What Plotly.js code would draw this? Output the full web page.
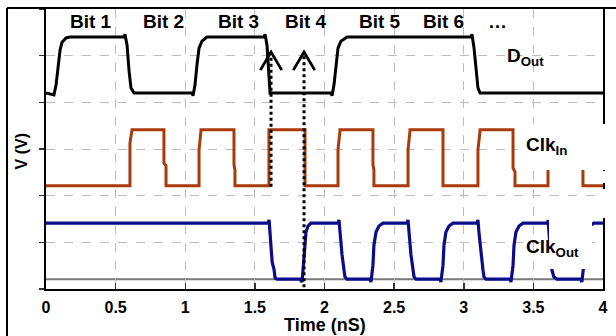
<!DOCTYPE html>
<html><head><meta charset="utf-8">
<script src="https://cdn.plot.ly/plotly-3.0.1.min.js"></script>
<style>html,body{margin:0;padding:0;background:#fff;}#chart{width:616px;height:336px;}</style>
</head><body><div id="chart"></div>
<script>
// ---- data (time in nS, level in chart units) ----
const dOutT = [0,0.057,0.072,0.086,0.101,0.115,0.144,0.172,0.560,0.567,0.582,0.596,0.610,0.632,
  1.048,1.056,1.070,1.084,1.099,1.120,1.156,1.566,1.573,1.587,1.595,1.602,1.609,
  2.047,2.054,2.068,2.083,2.097,2.118,2.162,3.052,3.059,3.074,3.088,3.102,3.117,4.0];
const dOutV = [4.20,4.16,4.37,4.69,5.12,5.29,5.38,5.40,5.40,5.46,5.23,4.69,4.31,4.20,
  4.20,4.14,4.37,4.80,5.16,5.31,5.40,5.40,5.46,5.23,4.91,4.48,4.20,
  4.20,4.14,4.37,4.80,5.16,5.31,5.40,5.40,5.46,5.16,4.69,4.31,4.20,4.20];

const clkInT = [0,0.603,0.603,0.618,0.618,0.847,0.847,0.862,0.862,
  1.099,1.099,1.113,1.113,1.350,1.350,1.357,1.357,
  1.601,1.601,1.860,1.860,
  2.097,2.097,2.111,2.111,2.348,2.348,2.355,2.355,
  2.600,2.600,2.614,2.614,2.851,2.851,
  3.102,3.102,3.117,3.117,3.354,3.354,3.368,3.368,
  3.605,3.605,3.619,3.619,3.856,3.856,4.0];
const clkInV = [2.21,2.21,3.13,3.39,3.41,3.41,2.70,2.64,2.21,
  2.21,2.98,3.39,3.41,3.41,2.66,2.55,2.21,
  2.21,3.41,3.41,2.21,
  2.21,2.98,3.39,3.41,3.41,2.66,2.55,2.21,
  2.21,2.98,3.39,3.41,3.41,2.21,
  2.21,2.98,3.39,3.41,3.41,2.59,2.51,2.21,
  2.21,2.98,3.39,3.41,3.41,2.21,2.21];

const clkOutT = [0,1.594,1.602,1.609,1.616,1.624,1.638,1.645,1.659,1.824,1.839,1.846,1.853,1.860,1.867,1.882,1.903,1.932,
  2.097,2.104,2.111,2.126,2.140,2.147,2.162,2.326,2.334,2.348,2.355,2.370,2.391,2.420,
  2.592,2.600,2.607,2.621,2.636,2.643,2.657,2.829,2.836,2.851,2.858,2.872,2.894,2.923,
  3.095,3.102,3.109,3.124,3.138,3.145,3.160,3.332,3.339,3.354,3.361,3.375,3.397,3.426,
  3.605,3.605,3.612,3.626,3.633,3.647,3.669,3.841,3.848,3.862,3.869,3.884,3.905,3.934,4.0];
const clkOutV = [1.41,1.41,1.48,1.22,0.84,0.58,0.41,0.24,0.21,0.21,0.15,0.41,0.84,1.05,1.22,1.35,1.41,1.41,
  1.41,1.48,1.22,0.73,0.41,0.26,0.21,0.21,0.15,0.51,0.94,1.22,1.35,1.41,
  1.41,1.48,1.22,0.73,0.41,0.26,0.21,0.21,0.15,0.51,0.94,1.22,1.35,1.41,
  1.41,1.48,1.22,0.73,0.41,0.26,0.21,0.21,0.15,0.51,0.94,1.22,1.35,1.41,
  1.41,1.48,1.22,0.73,0.41,0.26,0.21,0.21,0.15,0.51,0.94,1.22,1.35,1.41,1.41];

const tickVals = [0,0.5,1,1.5,2,2.5,3,3.5,4];
const tickText = ['0','0.5','1','1.5','2','2.5','3','3.5','4'];

const bitLabels = ['Bit 1','Bit 2','Bit 3','Bit 4','Bit 5','Bit 6','…'];
const bitX = [0.323,0.847,1.379,1.867,2.399,2.851,3.239];
const bitY = 5.74;

const arrowX = [1.616,1.853];
const arrowFrom = [2.19,0.04];
const arrowTo = [5.08,5.08];

const baseLevel = 0.21;

// ---- build ----
const F = 'Arial, "Liberation Sans", sans-serif';
const traces = [
  {x:dOutT,y:dOutV,mode:'lines',line:{color:'#000000',width:3},hoverinfo:'skip'},
  {x:clkInT,y:clkInV,mode:'lines',line:{color:'#A83A0C',width:3},hoverinfo:'skip'},
  {x:clkOutT,y:clkOutV,mode:'lines',line:{color:'#0C0C8A',width:3.2},hoverinfo:'skip'}
];
arrowX.forEach((ax,i)=>{
  traces.push({x:[ax,ax],y:[arrowFrom[i],arrowTo[i]],mode:'lines',
    line:{color:'#000',width:3,dash:'dot'},hoverinfo:'skip'});
  traces.push({x:[ax-0.077,ax,ax+0.077],y:[arrowTo[i]-0.39,arrowTo[i],arrowTo[i]-0.39],mode:'lines',
    line:{color:'#000',width:2.8},hoverinfo:'skip'});
});

const annotations = bitLabels.map((t,i)=>({x:bitX[i],y:bitY,xref:'x',yref:'y',text:'<b>'+t+'</b>',
  showarrow:false,font:{family:F,size:19,color:'#000'}}));
annotations.push({x:3.296,y:4.97,xref:'x',yref:'y',xanchor:'left',yanchor:'middle',text:'<b>D<sub>Out</sub></b>',showarrow:false,font:{family:F,size:19,color:'#000'}});
annotations.push({x:3.433,y:3.07,xref:'x',yref:'y',xanchor:'left',yanchor:'middle',text:'<b>Clk<sub>In</sub></b>',showarrow:false,font:{family:F,size:19,color:'#000'}});
annotations.push({x:3.433,y:0.88,xref:'x',yref:'y',xanchor:'left',yanchor:'middle',text:'<b>Clk<sub>Out</sub></b>',showarrow:false,font:{family:F,size:19,color:'#000'}});
// axis titles
annotations.push({x:0.5,y:-0.129,xref:'paper',yref:'paper',xanchor:'center',yanchor:'middle',text:'<b>Time (nS)</b>',showarrow:false,font:{family:F,size:18,color:'#000'}});
annotations.push({x:-0.044,y:0.493,xref:'paper',yref:'paper',xanchor:'center',yanchor:'middle',textangle:-90,text:'<b>V (V)</b>',showarrow:false,font:{family:F,size:16,color:'#000'}});

const shapes = [
  {type:'line',xref:'paper',yref:'y',x0:0,x1:1,y0:baseLevel,y1:baseLevel,line:{color:'#7a7a7a',width:2},layer:'below'},
  // label masks
  {type:'rect',xref:'paper',yref:'paper',x0:0.8474,x1:1.02,y0:0.425,y1:0.589,fillcolor:'#fff',line:{width:0},layer:'above'},
  {type:'rect',xref:'paper',yref:'paper',x0:0.9031,x1:0.9803,y0:0.0714,y1:0.25,fillcolor:'#fff',line:{width:0},layer:'above'},
  {type:'rect',xref:'paper',yref:'paper',x0:0.9946,x1:1.0072,y0:0.3786,y1:0.4214,fillcolor:'#fff',line:{width:0},layer:'above'},
  {type:'rect',xref:'paper',yref:'paper',x0:0.9946,x1:1.0072,y0:0.2536,y1:0.357,fillcolor:'#fff',line:{width:0},layer:'above'},
  // outer frame
  {type:'line',xref:'paper',yref:'paper',x0:-0.0700,x1:-0.0700,y0:-0.2,y1:1.0036,line:{color:'#000',width:2}},
  {type:'line',xref:'paper',yref:'paper',x0:-0.0700,x1:1.04,y0:1.0036,y1:1.0036,line:{color:'#000',width:2}}
];

const layout = {
  width:616,height:336,margin:{l:46,r:13,t:9,b:47},
  paper_bgcolor:'#fff',plot_bgcolor:'#fff',showlegend:false,
  font:{family:F,color:'#000'},
  xaxis:{range:[0,4],tickvals:tickVals,ticktext:tickText,ticks:'inside',ticklen:6,tickwidth:1.5,tickcolor:'#333',
    showgrid:true,gridcolor:'#bdbdbd',griddash:'dash',gridwidth:1,zeroline:false,
    showline:true,linecolor:'#000',linewidth:2,mirror:true,ticklabelstandoff:3,
    tickfont:{family:F,size:16,color:'#000',weight:'bold'}},
  yaxis:{range:[0,6],dtick:1,tick0:0,showticklabels:false,ticks:'outside',ticklen:5,tickwidth:1.5,tickcolor:'#333',
    showgrid:true,gridcolor:'#bdbdbd',griddash:'dash',gridwidth:1,zeroline:false,
    showline:true,linecolor:'#000',linewidth:2,mirror:true},
  annotations:annotations,shapes:shapes
};
Plotly.newPlot('chart',traces,layout,{displayModeBar:false,staticPlot:true});
</script></body></html>
